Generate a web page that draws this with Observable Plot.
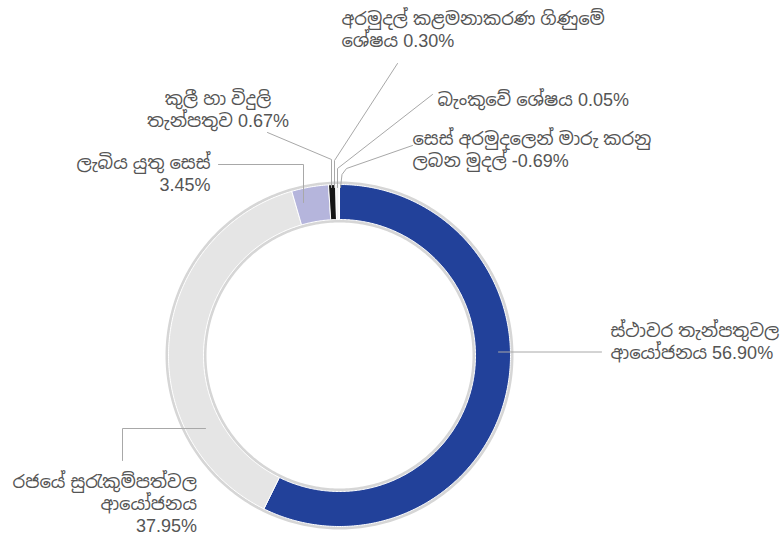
<!DOCTYPE html>
<html>
<head>
<meta charset="utf-8">
<script src="https://cdn.jsdelivr.net/npm/d3@7"></script>
<script src="https://cdn.jsdelivr.net/npm/@observablehq/plot@0.6"></script>
<style>
  html, body { margin: 0; padding: 0; background: #fff; }
  #chart { width: 780px; height: 536px; }
</style>
</head>
<body>
<div id="chart"></div>
<script>
// ---------------- data ----------------
const names = [
  "ස්ථාවර තැන්පතුවල\nආයෝජනය",
  "රජයේ සුරැකුම්පත්වල\nආයෝජනය",
  "ලැබිය යුතු සෙස්",
  "කුලී හා විදුලි\nතැන්පතුව",
  "අරමුදල් කළමනාකරණ ගිණුමේ\nශේෂය",
  "බැංකුවේ ශේෂය",
  "සෙස් අරමුදලෙන් මාරු කරනු\nලබන මුදල්"
];
const values = [56.90, 37.95, 3.45, 0.67, 0.30, 0.05, -0.69];
const valueSeparators = [" ", "\n", "\n", " ", " ", " ", " "];
const sliceColors = ["#22419a", "#e5e5e5", "#b5b5dc", "#151515", "#f3f3f3", "#2b4aa6", "#22419a"];

// ---------------- layout (pixels) ----------------
const W = 780, H = 536;
const cx = 339, cy = 355, rOuter = 171, rInner = 136;
const ringRadii = [172.5, 134.5];
const labelAnchors = ["start", "end", "end", "middle", "start", "start", "start"];
const labelPos = [[610, 358.5], [196.5, 531.5], [210, 190.7], [217.5, 126.5], [341, 46], [437, 105.7], [412, 166.5]];
const leaderPaths = [
  [[498, 351.5], [601, 351.5]],
  [[205, 428], [122, 428], [122, 460]],
  [[218, 164], [303, 164], [303, 202]],
  [[267, 132], [331, 159], [331, 187]],
  [[397, 63], [334, 160], [334, 187]],
  [[432, 94], [337, 168], [337, 187]],
  [[412, 145], [346, 168], [341.5, 174], [340, 187]]
];

// ---------------- geometry from data ----------------
const pie = d3.pie().sort(null).value(v => Math.max(0, v));
const arcs = pie(values);
const polar = (r, a) => ({x: cx + r * Math.sin(a), y: cy - r * Math.cos(a)});

const slicePts = [];
arcs.forEach((a, i) => {
  if (a.endAngle - a.startAngle <= 0) return;
  const n = Math.max(2, Math.ceil((a.endAngle - a.startAngle) / 0.01));
  const pts = [];
  for (let k = 0; k <= n; k++) pts.push(polar(rOuter, a.startAngle + (a.endAngle - a.startAngle) * k / n));
  for (let k = n; k >= 0; k--) pts.push(polar(rInner, a.startAngle + (a.endAngle - a.startAngle) * k / n));
  pts.push(pts[0]);
  pts.forEach(p => slicePts.push({...p, id: i, color: sliceColors[i]}));
});

const ringPts = [];
ringRadii.forEach((r, j) => {
  for (let k = 0; k <= 360; k++) ringPts.push({...polar(r, k * Math.PI / 180), id: j});
});

const leaderPts = [];
leaderPaths.forEach((path, i) => path.forEach(([x, y]) => leaderPts.push({x, y, id: i})));

const labelRows = names.map((n, i) => ({
  text: n + valueSeparators[i] + values[i].toFixed(2) + "%",
  x: labelPos[i][0], y: labelPos[i][1], anchor: labelAnchors[i]
}));

const font = "'Liberation Sans', Arial, 'Noto Sans Sinhala', 'Iskoola Pota', sans-serif";
const textMark = anchor => Plot.text(labelRows.filter(d => d.anchor === anchor), {
  x: "x", y: "y", text: "text", textAnchor: anchor, lineAnchor: "bottom",
  fontSize: 18, lineHeight: 1.222, fill: "#555", fontFamily: font
});

const plot = Plot.plot({
  width: W, height: H, margin: 0,
  style: {background: "#fff", fontFamily: font},
  x: {domain: [0, W], range: [0, W], axis: null},
  y: {domain: [0, H], range: [0, H], axis: null},
  color: {type: "identity"},
  marks: [
    Plot.line(ringPts, {x: "x", y: "y", z: "id", stroke: "#d6d6d6", strokeWidth: 3}),
    Plot.line(slicePts, {x: "x", y: "y", z: "id", fill: "color", stroke: "#fff", strokeWidth: 1, strokeLinejoin: "miter"}),
    Plot.line(leaderPts, {x: "x", y: "y", z: "id", stroke: "#a8a8a8", strokeWidth: 1}),
    textMark("start"), textMark("end"), textMark("middle")
  ]
});
document.getElementById("chart").appendChild(plot);
</script>
</body>
</html>
